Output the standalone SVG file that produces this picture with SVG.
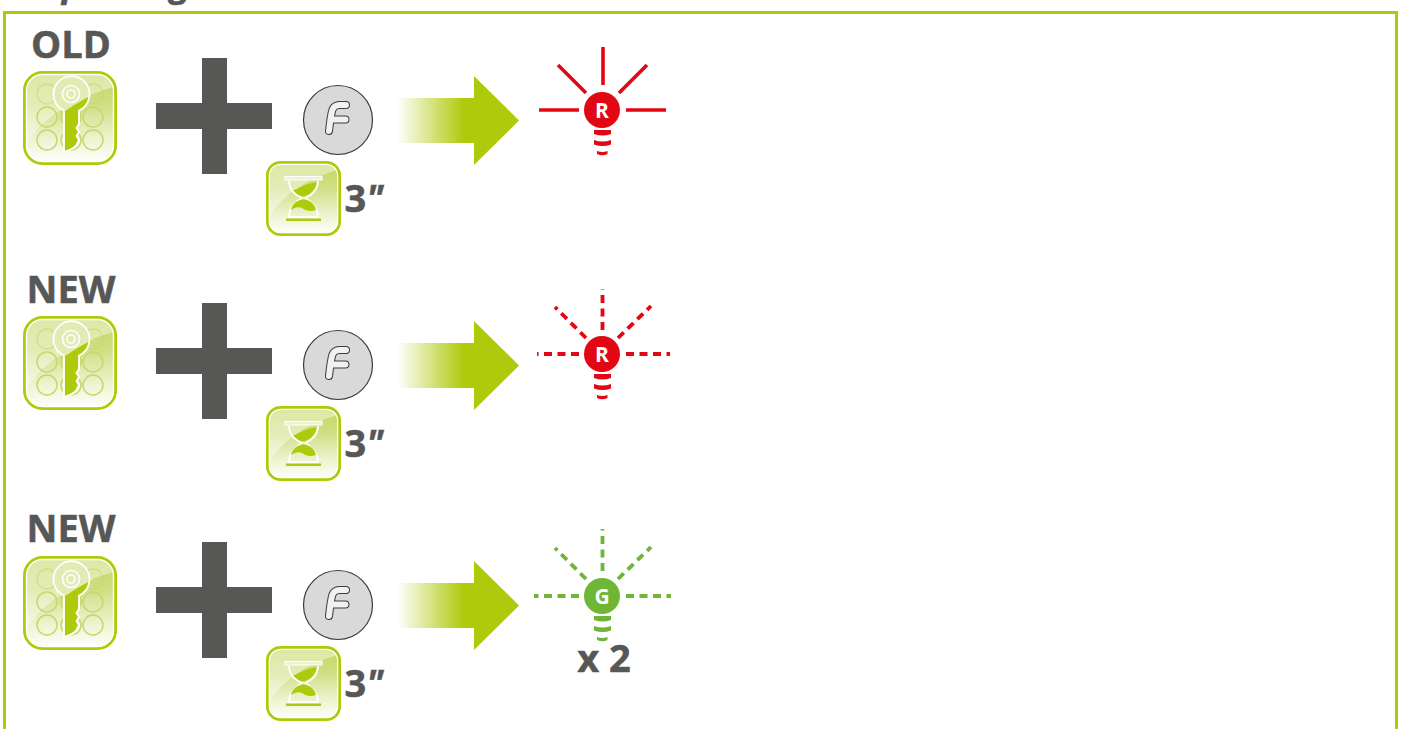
<svg xmlns="http://www.w3.org/2000/svg" width="1401" height="729" viewBox="0 0 1401 729">
<style>
.lbl{font-family:"Open Sans","Liberation Sans",sans-serif;font-weight:700;fill:#575756;stroke:#575756;stroke-width:.5}
.bl{font-family:"Open Sans","Liberation Sans",sans-serif;font-weight:700;fill:#fff;font-size:21px;text-anchor:middle}
.ray{fill:none;stroke-width:3.6}
.d{stroke-dasharray:8 5.5;stroke-width:3.8}
.r{stroke:#e30613}.g{stroke:#6fb536}
.dot{fill:none;stroke:#c5d86d;stroke-width:1.5}
</style>
<defs>
<linearGradient id="iconG" x1="0" y1="0" x2="0" y2="1"><stop offset="0" stop-color="#c3d765"/><stop offset=".35" stop-color="#cfdf83"/><stop offset=".75" stop-color="#eff4d4"/><stop offset="1" stop-color="#ffffff"/></linearGradient>
<linearGradient id="arrG" gradientUnits="userSpaceOnUse" x1="397" y1="0" x2="464" y2="0"><stop offset="0" stop-color="#afca0b" stop-opacity="0"/><stop offset="1" stop-color="#afca0b"/></linearGradient>
<clipPath id="keyLow"><path d="M40,131 Q68,104 118,83 V170 H40Z"/></clipPath>

<g id="keyIcon">
<rect x="24.500" y="72.500" width="91" height="91" rx="18" fill="url(#iconG)" stroke="#afca0b" stroke-width="3"/>
<path d="M27,143 C42,118 72,100 113,87 V90 C113,80 106,75 98,75 H42 C33,75 27,81 27,90Z" fill="#fff" opacity=".42"/>
<rect x="26.500" y="74.500" width="87" height="87" rx="16" fill="none" stroke="#fff" stroke-width="1.400"/>
<circle class="dot" cx="47" cy="94" r="10" opacity=".55"/><circle class="dot" cx="93" cy="94" r="10" opacity=".55"/>
<circle class="dot" cx="47" cy="117" r="10"/><circle class="dot" cx="71" cy="117" r="10"/><circle class="dot" cx="93" cy="117" r="10"/>
<circle class="dot" cx="47" cy="140" r="10"/><circle class="dot" cx="71" cy="140" r="10"/><circle class="dot" cx="93" cy="140" r="10"/>
<path d="M64,110.500 A18,18 0 1 1 79,110.500 V124 L76.500,128 L79,132 L76.500,136 L79,140 L76.500,145 C74,149 69,150.500 64,152Z" fill="#e2ebb4" stroke="#fff" stroke-width="1.800"/>
<path clip-path="url(#keyLow)" d="M64,110.500 A18,18 0 1 1 79,110.500 V124 L76.500,128 L79,132 L76.500,136 L79,140 L76.500,145 C74,149 69,150.500 64,152Z" fill="#afca0b" stroke="#fff" stroke-width="1.800"/>
<circle cx="71" cy="94" r="8.500" fill="none" stroke="#fff" stroke-width="1.600"/>
<circle cx="71" cy="94" r="4" fill="none" stroke="#fff" stroke-width="1.600"/>
</g>

<g id="plusIcon"><path d="M202,58 H227 V103 H272 V129 H227 V174 H202 V129 H156 V103 H202Z" fill="#575756"/></g>

<g id="fingerIcon">
<circle cx="338" cy="120" r="34.500" fill="#d9d9d9" stroke="#3c3c3b" stroke-width="1.200"/>
<path d="M329,131 C330,122 331,114 332.500,109.500 Q334,105.500 339,105 L346,105 M334,119.500 H345.500" fill="none" stroke="#3c3c3b" stroke-width="8" stroke-linecap="round"/>
<path d="M329,131 C330,122 331,114 332.500,109.500 Q334,105.500 339,105 L346,105 M334,119.500 H345.500" fill="none" stroke="#f1f1f1" stroke-width="6" stroke-linecap="round"/>
</g>

<g id="glassIcon">
<rect x="267.500" y="162.500" width="72" height="72" rx="13" fill="url(#iconG)" stroke="#afca0b" stroke-width="3"/>
<path d="M270,215 C284,195 305,180 337,170 V172 C337,167 333,165 328,165 H278 C273,165 270,168 270,173Z" fill="#fff" opacity=".42"/>
<rect x="269.300" y="164.300" width="68.400" height="68.400" rx="11.500" fill="none" stroke="#fff" stroke-width="1.200"/>
<path d="M293,190 C298,190 304,183 316.500,182.500 C316,189 310,195 303.500,196.500 C299,196 296,194 293,190Z" fill="#afca0b"/>
<path d="M289,181 C289,190 296,196 302,198 C296,201 289,208 289,217 H318 C318,208 311,201 305,198 C311,196 318,190 318,181" fill="none" stroke="#fff" stroke-width="1.800"/>
<path d="M291,210 C292,204 297,200 303.500,199.500 C310,200 315,204 316,210 C311,212 306,211 302,208 C298,206 294,208 291,210Z" fill="#afca0b"/>
<rect x="285" y="176.500" width="37" height="3.500" fill="#eef3d0" stroke="#fff" stroke-width="1"/>
<rect x="286" y="218.500" width="35" height="2.500" fill="#afca0b"/>
</g>

<g id="arrowIcon">
<rect x="397" y="98" width="78" height="45" fill="url(#arrG)"/>
<rect x="463" y="98" width="12" height="45" fill="#afca0b"/>
<path d="M474,76 L519,120.500 L474,165Z" fill="#afca0b"/>
</g>

<g id="base"><path d="M594,130 H611 V134 Q602.500,137 594,134Z M594,140 Q602.500,143 611,140 V144.500 Q602.500,147.500 594,144.500Z M597,151 Q602.500,153 607.500,151 V154 Q602.500,156.500 597,154Z"/></g>
</defs>

<g id="connectors"></g>

<g id="frame"><path d="M4.500,729 V12.500 H1396.500 V729" fill="none" stroke="#afca0b" stroke-width="3"/></g>
<g id="title"><text class="lbl" x="62" y="-4" font-size="36" font-style="italic">p</text><text class="lbl" x="170" y="-4" font-size="36" font-style="italic">g</text></g>

<g id="row1">
<g id="label-old"><text class="lbl" x="71" y="58" font-size="38" text-anchor="middle">OLD</text></g>
<g id="key-1"><use href="#keyIcon"/></g>
<g id="plus-1"><use href="#plusIcon"/></g>
<g id="finger-1"><use href="#fingerIcon"/></g>
<g id="glass-1"><use href="#glassIcon"/><text class="lbl" x="344.500" y="212" font-size="38">3<tspan font-style="italic">"</tspan></text></g>
<g id="arrow-1"><use href="#arrowIcon"/></g>
<g id="led-1">
<path class="ray r" d="M603,85 V47 M579,110 H539 M626,110 H666 M586,93 L558,65 M619,93 L647,65"/>
<circle cx="602" cy="110" r="18" fill="#e30613"/><text class="bl" x="602" y="117.500">R</text>
<use href="#base" fill="#e30613"/>
</g>
</g>

<g id="row2">
<g id="label-new-1"><text class="lbl" x="71" y="303" font-size="38" text-anchor="middle">NEW</text></g>
<g id="key-2"><use href="#keyIcon" y="245"/></g>
<g id="plus-2"><use href="#plusIcon" y="245"/></g>
<g id="finger-2"><use href="#fingerIcon" y="245"/></g>
<g id="glass-2"><use href="#glassIcon" y="245"/><text class="lbl" x="344.500" y="457" font-size="38">3<tspan font-style="italic">"</tspan></text></g>
<g id="arrow-2"><use href="#arrowIcon" y="245"/></g>
<g id="led-2">
<path class="ray r d" d="M602.500,330 V289 M579,354 H537 M626,354 H670 M586,338 L555,307 M618,338 L651,306"/>
<circle cx="602" cy="354" r="18" fill="#e30613"/><text class="bl" x="602" y="361.500">R</text>
<use href="#base" fill="#e30613" y="244"/>
</g>
</g>

<g id="row3">
<g id="label-new-2"><text class="lbl" x="71" y="542" font-size="38" text-anchor="middle">NEW</text></g>
<g id="key-3"><use href="#keyIcon" y="485"/></g>
<g id="plus-3"><use href="#plusIcon" y="484"/></g>
<g id="finger-3"><use href="#fingerIcon" y="485"/></g>
<g id="glass-3"><use href="#glassIcon" y="485"/><text class="lbl" x="344.500" y="697" font-size="38">3<tspan font-style="italic">"</tspan></text></g>
<g id="arrow-3"><use href="#arrowIcon" y="485"/></g>
<g id="led-3">
<path class="ray g d" d="M602.500,571 V529 M579,596 H534 M626,596 H671 M586,579 L555,548 M618,579 L651,547"/>
<circle cx="602" cy="596" r="18" fill="#6fb536"/><text class="bl" x="602" y="603.500">G</text>
<use href="#base" fill="#6fb536" y="486"/>
<text class="lbl" x="604" y="672" font-size="38" text-anchor="middle">x 2</text>
</g>
</g>
</svg>
